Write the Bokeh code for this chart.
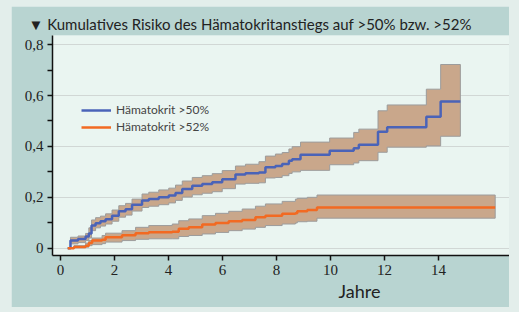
from bokeh.plotting import figure
from bokeh.models import FixedTicker, CustomJSTickFormatter, Title, Column
from bokeh.embed import file_html
from bokeh.resources import INLINE

# ---- data ----
title_text = "▼ Kumulatives Risiko des Hämatokritanstiegs auf >50% bzw. >52%"
x_label = "Jahre"
series_names = ["Hämatokrit >50%", "Hämatokrit >52%"]

x_ticks = [0, 2, 4, 6, 8, 10, 12, 14]
y_ticks = [0, 0.2, 0.4, 0.6, 0.8]
y_minor = [0.1, 0.3, 0.5, 0.7]

# Hämatokrit >50 %
t50 = [0.27, 0.37, 0.65, 0.93, 1.05, 1.15, 1.30, 1.48, 1.67, 1.91, 2.16, 2.41, 2.65, 3.02, 3.27,
       3.64, 4.01, 4.26, 4.51, 4.88, 5.25, 5.62, 5.99, 6.48, 6.85, 7.35, 7.59, 7.96, 8.21, 8.46,
       8.58, 8.89, 9.97, 10.86, 11.05, 11.76, 12.10, 13.55, 14.08]
est50 = [0.0, 0.030, 0.036, 0.046, 0.058, 0.089, 0.098, 0.106, 0.114, 0.128, 0.145, 0.153, 0.171, 0.187, 0.193,
         0.200, 0.207, 0.217, 0.233, 0.245, 0.252, 0.259, 0.271, 0.290, 0.295, 0.298, 0.318, 0.323, 0.331, 0.344,
         0.350, 0.367, 0.383, 0.393, 0.407, 0.458, 0.475, 0.517, 0.577]
lo50 = [0.0, 0.017, 0.022, 0.030, 0.040, 0.069, 0.080, 0.087, 0.095, 0.106, 0.122, 0.130, 0.146, 0.160, 0.165,
        0.171, 0.178, 0.188, 0.201, 0.210, 0.216, 0.222, 0.234, 0.252, 0.255, 0.257, 0.276, 0.278, 0.285, 0.294,
        0.300, 0.306, 0.328, 0.335, 0.344, 0.377, 0.397, 0.402, 0.440]
hi50 = [0.0, 0.043, 0.048, 0.058, 0.080, 0.111, 0.120, 0.126, 0.135, 0.150, 0.167, 0.176, 0.193, 0.213, 0.220,
        0.229, 0.236, 0.248, 0.264, 0.278, 0.285, 0.293, 0.305, 0.323, 0.330, 0.340, 0.362, 0.370, 0.376, 0.390,
        0.399, 0.417, 0.433, 0.455, 0.468, 0.540, 0.563, 0.625, 0.722]
t50_end = 14.81

# Hämatokrit >52 %
t52 = [0.27, 0.50, 0.93, 1.05, 1.17, 1.54, 1.67, 2.28, 2.78, 3.27, 4.14, 4.38, 4.75, 5.25, 5.74,
       6.23, 6.73, 7.22, 7.59, 8.21, 8.70, 8.77, 9.14, 9.50]
est52 = [0.0, 0.005, 0.010, 0.020, 0.030, 0.033, 0.043, 0.051, 0.059, 0.063, 0.065, 0.076, 0.082, 0.093, 0.099,
         0.106, 0.111, 0.122, 0.128, 0.135, 0.137, 0.145, 0.150, 0.160]
lo52 = [0.0, 0.002, 0.004, 0.010, 0.014, 0.018, 0.024, 0.030, 0.035, 0.037, 0.037, 0.046, 0.050, 0.056, 0.062,
        0.069, 0.075, 0.082, 0.089, 0.095, 0.099, 0.104, 0.106, 0.118]
hi52 = [0.0, 0.010, 0.020, 0.030, 0.040, 0.050, 0.059, 0.069, 0.082, 0.089, 0.095, 0.108, 0.115, 0.128, 0.137,
        0.145, 0.154, 0.165, 0.174, 0.184, 0.193, 0.196, 0.200, 0.209]
t52_end = 16.1

# ---- styling ----
OUTER = "#e3eeeb"
FRAME = "#b8d4d1"
PLOT_BG = "#eaf5f1"
BLUE = "#4a63b8"
ORANGE = "#f26a22"
BAND = "#c9a78b"
BAND_EDGE = "#9c9c9c"

p = figure(width=498, height=301, output_backend="svg", toolbar_location=None,
           x_range=(-0.296, 16.63), y_range=(-0.0287, 0.836),
           min_border_left=41, min_border_right=0, min_border_top=29, min_border_bottom=52)
p.background_fill_color = PLOT_BG
p.border_fill_color = FRAME
p.outline_line_color = None
p.margin = (6, 10, 5, 11)

p.title.text = title_text
p.title.text_font = "Lato"
p.title.text_font_size = "15px"
p.title.text_font_style = "normal"
p.title.text_color = "#222222"
p.title.align = "left"
p.title.offset = -24
p.title.standoff = 6

p.add_layout(Title(text=x_label, text_font="Lato", text_font_size="18px", text_font_style="normal",
                   text_color="#222222", align="left", offset=286, standoff=0), "below")

def ext(t, v, t_end):
    return list(t) + [t_end], list(v) + [v[-1]]

for t, est, lo, hi, t_end in [
    (t50, est50, lo50, hi50, t50_end),
    (t52, est52, lo52, hi52, t52_end),
]:
    x, y1 = ext(t, lo, t_end)
    _, y2 = ext(t, hi, t_end)
    p.varea_step(x=x, y1=y1, y2=y2, step_mode="after", fill_color=BAND, fill_alpha=1)
    p.step(x=x, y=y1, mode="after", line_color=BAND_EDGE, line_width=1)
    p.step(x=x, y=y2, mode="after", line_color=BAND_EDGE, line_width=1)
    p.segment(x0=[x[-1]], y0=[y1[-1]], x1=[x[-1]], y1=[y2[-1]], line_color=BAND_EDGE, line_width=1)

for t, est, t_end, col, name in [
    (t50, est50, t50_end, BLUE, series_names[0]),
    (t52, est52, t52_end, ORANGE, series_names[1]),
]:
    x, ye = ext(t, est, t_end)
    p.step(x=x, y=ye, mode="after", line_color=col, line_width=2.5, legend_label=name)

# axes
p.xaxis.ticker = FixedTicker(ticks=x_ticks)
p.yaxis.ticker = FixedTicker(ticks=y_ticks, minor_ticks=y_minor)
p.yaxis.formatter = CustomJSTickFormatter(
    code="return tick == 0 ? '0' : tick.toFixed(1).replace('.', ',');")
for ax in (p.xaxis[0], p.yaxis[0]):
    ax.axis_line_color = "#111111"
    ax.axis_line_width = 1.5
    ax.major_tick_line_color = "#111111"
    ax.major_tick_line_width = 1.5
    ax.major_tick_in = 0
    ax.major_tick_out = 5
    ax.minor_tick_line_color = "#111111"
    ax.minor_tick_line_width = 1.5
    ax.minor_tick_in = 0
    ax.minor_tick_out = 5
    ax.major_label_text_font = "Liberation Serif"
    ax.major_label_text_font_size = "15px"
    ax.major_label_text_color = "#222222"
    ax.major_label_standoff = 4
p.xaxis.minor_tick_out = 0

p.xgrid.grid_line_color = None
p.ygrid.grid_line_color = "#b8b8b8"
p.ygrid.grid_line_dash = "1 1"
p.ygrid.grid_line_width = 1

leg = p.legend[0]
leg.location = (29, 121)
leg.background_fill_alpha = 0
leg.border_line_color = None
leg.padding = 0
leg.margin = 0
leg.spacing = 2
leg.glyph_width = 30
leg.glyph_height = 14
leg.label_height = 14
leg.label_standoff = 5
leg.label_text_font = "Lato"
leg.label_text_font_size = "12px"
leg.label_text_color = "#444444"

layout = Column(children=[p], width=519, height=312,
                styles={"background-color": OUTER})
open("out.html", "w").write(file_html(layout, INLINE))
